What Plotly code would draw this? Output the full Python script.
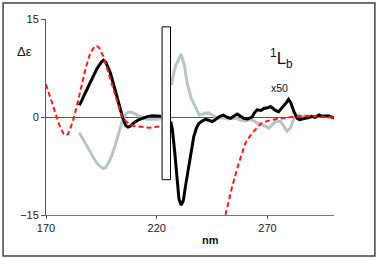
import plotly.graph_objects as go

# ---- data ----
nm_black = [185, 186, 187.6, 189, 191, 193, 195, 196, 197, 199, 201, 203, 204.5, 206, 207, 208, 210, 212, 214, 216, 218, 220, 222,
            None,
            226.3, 227, 228, 229, 230, 231, 232, 233, 234.4, 235.5, 236.7, 238, 239, 240.5, 242, 243.5, 245, 246, 247.2, 248.5,
            250, 251.5, 253.3, 255, 256.3, 257.5, 259.2, 261, 263, 264, 265.3, 267, 268.3, 270, 271.3, 272.5, 273.5, 275,
            276.2, 277.3, 278.5, 279.5, 280.5, 281.9, 283.4, 284.5, 285.7, 287, 288.7, 290, 291.5, 293.2, 294.5, 296.2,
            297.5, 299, 300]
de_black = [1.8, 2.4, 3.6, 4.6, 6.0, 7.4, 8.4, 8.7, 8.4, 6.8, 4.4, 1.8, 0.0, -1.3, -1.55, -1.4, -0.8, -0.4, -0.1, 0.1, 0.2, 0.1, 0.1,
            None,
            -0.7, -1.8, -5.0, -9.0, -12.5, -13.5, -12.8, -10.5, -7.6, -5.0, -3.0, -1.6, -1.0, -0.6, -0.35, -0.5, -0.7, -0.5, -0.2, 0.1,
            0.3, 0.0, -0.2, 0.2, 0.45, 0.2, -0.2, -0.3, 0.0, 0.6, 1.1, 1.0, 1.3, 1.4, 1.6, 1.3, 1.0, 0.8,
            1.3, 1.6, 2.2, 2.7, 2.2, 0.8, -0.2, -0.4, -0.35, -0.2, -0.1, 0.1, -0.05, 0.3, 0.1, 0.1,
            0.2, 0.0, -0.2]

nm_grey = [185, 187, 189, 191, 193, 195, 196, 197, 199, 201, 202, 203.5, 205, 206.5, 208, 209.5, 211, 212.5, 214, 215.6, 218, 220, 222,
           None,
           226.7, 227.7, 228.7, 229.7, 231, 232.4, 233.9, 235.5, 237.7, 239.2, 240.5, 242, 243.4, 245, 246.5, 248, 250, 252,
           254, 256, 258, 260, 262, 264, 265.5, 267.5, 269, 270.6, 272, 273.6, 275.9, 277.5, 278.9, 280.4, 281.9, 284, 286,
           288, 290, 293, 296, 298]
de_grey = [-2.4, -3.6, -4.9, -6.1, -7.1, -7.7, -7.9, -7.7, -6.5, -4.6, -3.5, -1.8, 0.0, 0.6, 0.8, 0.6, 0.3, 0.0, -0.2, -0.35, -0.4, -0.35, -0.3,
           None,
           4.9, 6.8, 8.0, 8.7, 9.6, 8.0, 4.9, 2.9, 1.3, 0.3, 0.4, 0.6, 0.65, 0.3, 0.0, -0.2, -0.1, -0.3,
           -0.3, -0.2, -0.5, -0.6, -0.4, -0.6, -1.0, -1.2, -1.4, -1.7, -1.2, -0.7, -0.7, -1.4, -2.2, -1.6, -0.2, 0.3, 0.1,
           0.2, 0.0, 0.2, 0.1, 0.0]

nm_red = [170, 172, 174, 176, 178, 179, 180, 182, 184, 186, 188, 190, 192, 193, 194, 196, 198, 200, 202, 204, 206, 208, 210, 212,
          214, 217, 220, 222,
          None,
          248, 250, 251, 254, 257, 260, 263, 267, 270, 274, 278, 281, 285, 288, 292, 296, 300]
de_red = [5.0, 3.0, 0.8, -1.2, -2.6, -2.8, -2.6, -0.8, 1.8, 4.8, 7.6, 9.8, 10.8, 10.9, 10.6, 9.2, 7.0, 4.6, 2.4, 0.3, -0.6, -1.2, -1.4, -1.5,
          -1.6, -1.65, -1.5, -1.4,
          None,
          -21.0, -16.5, -15.0, -10.7, -7.1, -4.0, -2.5, -1.0, -0.6, -0.3, -0.1, 0.0, 0.1, 0.15, 0.1, 0.0, -0.1]

x_ticks = [170, 220, 270]
y_ticks = [-15, 0, 15]
x_range = [170, 300]
y_range = [-15, 15]
box_nm = [222.4, 226.2]
box_de = [-9.6, 13.8]

FONT = "Liberation Sans, Arial, sans-serif"

fig = go.Figure()
fig.add_trace(go.Scatter(x=nm_grey, y=de_grey, mode="lines", connectgaps=False,
                         line=dict(color="#b6c6c4", width=3), showlegend=False))
fig.add_trace(go.Scatter(x=nm_black, y=de_black, mode="lines", connectgaps=False,
                         line=dict(color="#000000", width=3), showlegend=False))
fig.add_trace(go.Scatter(x=nm_red, y=de_red, mode="lines", connectgaps=False,
                         line=dict(color="#ff1a1a", width=2, dash="5px,3px"), showlegend=False))


def ann(text, px, py, size, bold=False):
    return dict(text=f"<b>{text}</b>" if bold else text, xref="paper", yref="paper",
                x=(px - 46) / 288, y=(215 - py) / 196, xanchor="center", yanchor="middle",
                showarrow=False, font=dict(size=size, family=FONT, color="#111"))


fig.update_layout(
    width=378, height=258,
    margin=dict(l=46, r=44, t=19, b=43),
    paper_bgcolor="white", plot_bgcolor="white",
    font=dict(family=FONT, size=11, color="#222"),
    xaxis=dict(range=x_range, tickvals=x_ticks, showgrid=False, zeroline=False,
               showline=True, linecolor="#777", linewidth=1, ticks="outside", ticklen=3,
               tickcolor="#555", tickfont=dict(size=11, family=FONT, color="#222")),
    yaxis=dict(range=y_range, tickvals=y_ticks, showgrid=False, zeroline=True,
               zerolinecolor="#4b4bd2", zerolinewidth=1,
               showline=True, linecolor="#555", linewidth=1, ticks="outside", ticklen=4,
               tickcolor="#555", tickfont=dict(size=11, family=FONT, color="#222")),
    shapes=[
        dict(type="rect", xref="x", yref="y", x0=box_nm[0], x1=box_nm[1], y0=box_de[0], y1=box_de[1],
             fillcolor="white", line=dict(color="black", width=1), layer="above"),
        dict(type="rect", xref="paper", yref="paper", x0=-0.149, x1=1.142, y0=-0.209, y1=1.082,
             line=dict(color="#444", width=1.5), fillcolor="rgba(0,0,0,0)"),
    ],
    annotations=[
        ann("Δε", 24, 51.5, 13),
        ann("<sup>1</sup>L<sub>b</sub>", 281.5, 58, 17),
        ann("x50", 279, 87.5, 10.5),
        ann("nm", 210, 240, 11, bold=True),
    ],
)

fig.write_html("out.html", config={"displayModeBar": False},
               post_script="document.body.style.margin='0';document.body.style.padding='0';"
                           "document.body.style.overflow='hidden';")
